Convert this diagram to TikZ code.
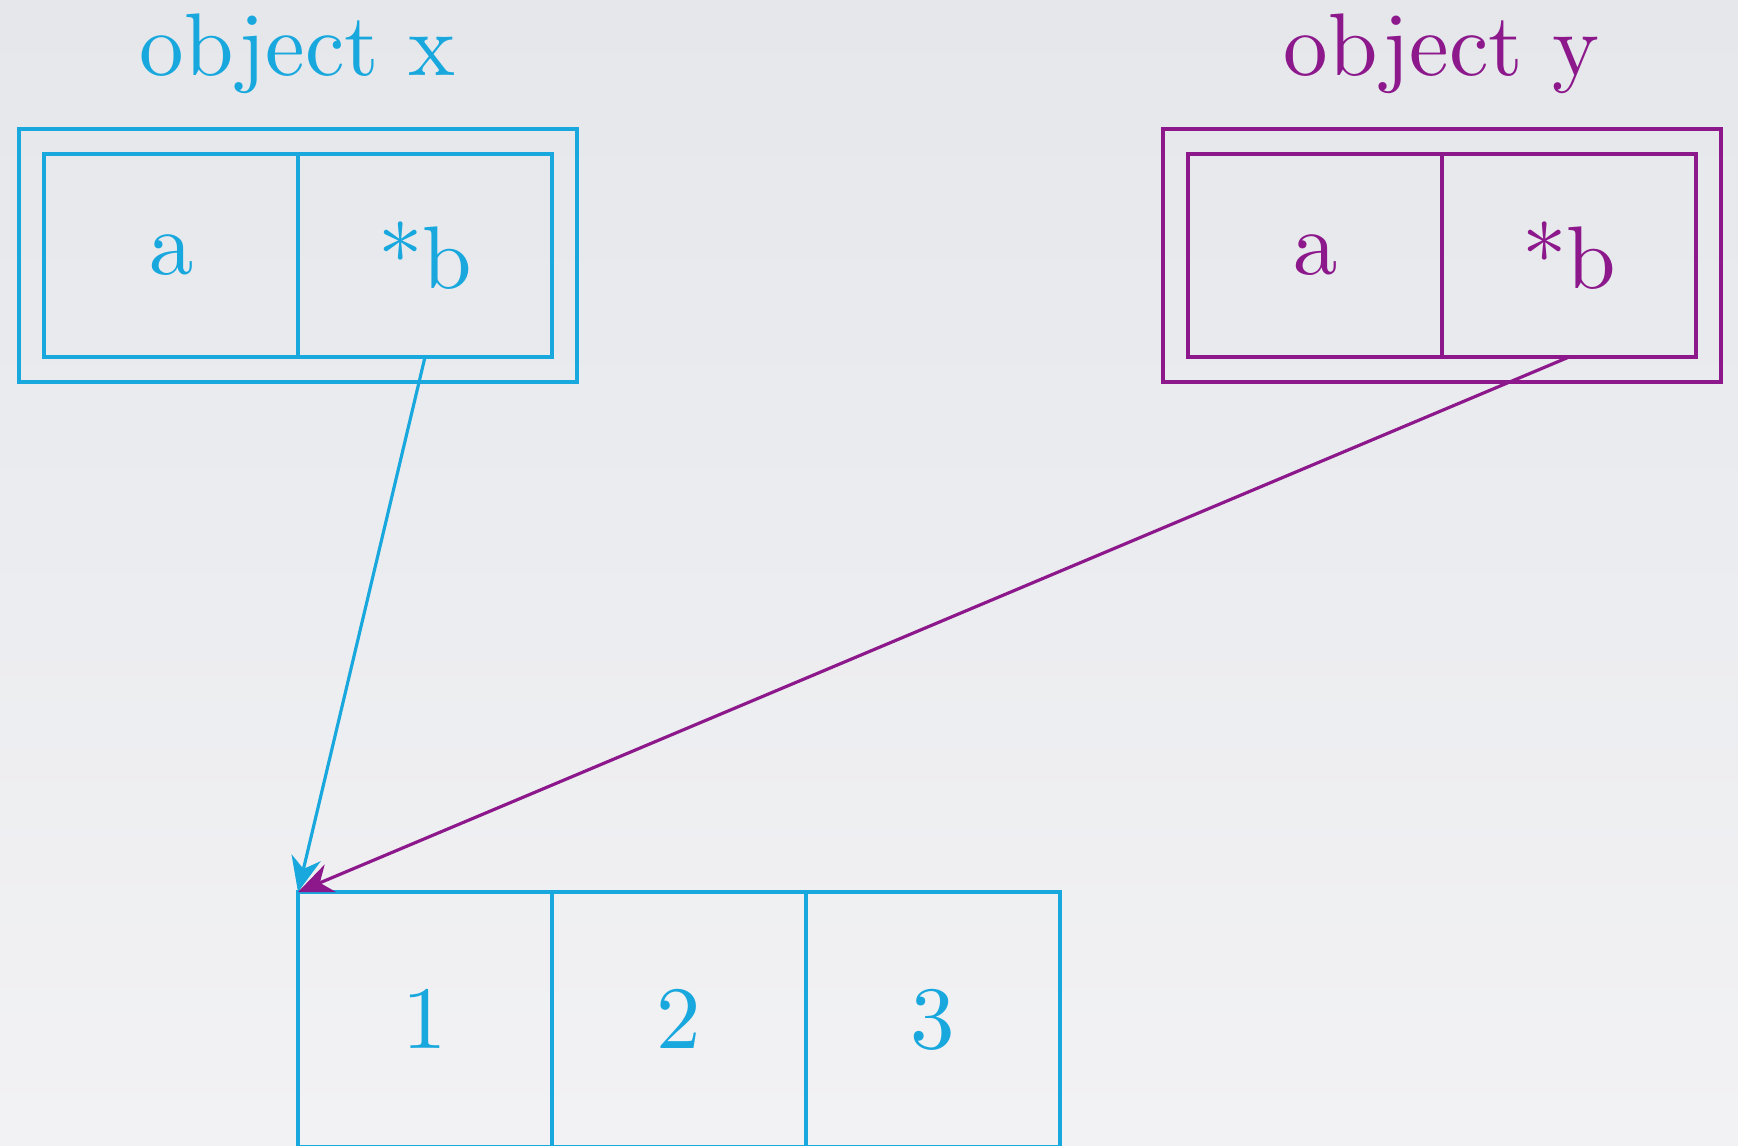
\documentclass[tikz,border=0pt]{standalone}
\usetikzlibrary{positioning,fit,arrows.meta}
\definecolor{objblue}{RGB}{24,168,222}
\definecolor{objpurple}{RGB}{140,24,140}
\definecolor{bgtop}{RGB}{229,231,235}
\definecolor{bgbot}{RGB}{242,242,244}
\font\objfont=cmr10 at 25.3pt
\tikzset{
  cell/.style={draw, line width=1.25pt, minimum width=2.54cm, minimum height=2.03cm,
    inner sep=0pt, outer sep=0pt, font=\objfont},
  sqcell/.style={cell, minimum height=2.55cm},
  objbox/.style={draw, line width=1.25pt, inner sep=0.25cm, outer sep=0pt},
  objtitle/.style={font=\objfont},
  ptr/.style={-{Stealth[length=10pt,width=8.5pt]}, line width=0.9pt}
}
\begin{document}
\begin{tikzpicture}
\shade[top color=bgtop, bottom color=bgbot] (0,0) rectangle (17.38,-11.45);
\useasboundingbox (0,0) rectangle (17.38,-11.45);
% Object x
\node[cell, objblue] (xa) at (1.71,-2.555) {a};
\node[cell, objblue, right=0pt of xa] (xb) {*b};
\node[objbox, objblue, fit=(xa)(xb)] (xbox) {};
\node[objtitle, objblue, above=0.54cm of xbox, anchor=base] (xname) {object x};
% Object y
\node[cell, objpurple] (ya) at (13.15,-2.555) {a};
\node[cell, objpurple, right=0pt of ya] (yb) {*b};
\node[objbox, objpurple, fit=(ya)(yb)] (ybox) {};
\node[objtitle, objpurple, above=0.54cm of ybox, anchor=base] (yname) {object y};
% Array
\node[sqcell, objblue, anchor=north west] (n1) at (2.98,-8.92) {1};
\node[sqcell, objblue, right=0pt of n1] (n2) {2};
\node[sqcell, objblue, right=0pt of n2] (n3) {3};
% Pointers
\draw[ptr, objblue] (xb.south) -- (n1.north west);
\draw[ptr, objpurple] (yb.south) -- (n1.north west);
\end{tikzpicture}
\end{document}
